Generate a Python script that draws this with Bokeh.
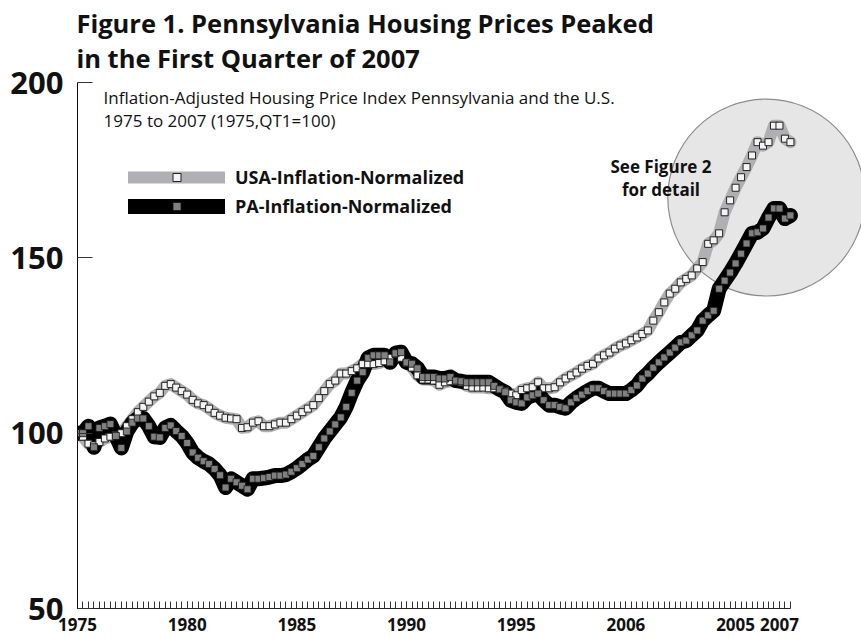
from bokeh.plotting import figure
from bokeh.models import Range1d, LinearAxis, FixedTicker, Label, Legend, LegendItem
from bokeh.embed import file_html
from bokeh.resources import INLINE
import numpy as np

# ---- data (quarterly, 1975 Q1 .. 2007 Q3) ----
usa = [100, 99, 97, 96.5, 97.5, 98.5, 99, 99.5, 100, 102,
       104, 106, 107.5, 109, 110.5, 111.5, 113.5, 114, 113, 112,
       111, 109.5, 108.5, 108, 107, 105.8, 105, 104.4, 104.2, 104,
       101.5, 101.7, 103, 103.4, 102, 102, 102.5, 103, 103, 104,
       105, 106, 107, 108, 110, 112, 114, 115, 117, 117,
       117.7, 118.5, 119.7, 119.7, 119.7, 120, 120.5, 121.5, 122.6, 121.5,
       120, 118.7, 116.5, 115.3, 115.3, 115, 113.8, 114.5, 114.8, 114.8,
       114.5, 113.5, 113, 113, 113, 112.8, 112.8, 112.5, 112, 111.3,
       110.8, 112.3, 112.8, 113.1, 114.5, 112.8, 112.8, 113.1, 114.5, 115.6,
       116.5, 117.3, 118.4, 119.2, 119.8, 121.3, 122.2, 123, 124.1, 125,
       125.6, 126.5, 127.3, 128.3, 129.3, 132.1, 134.5, 137.3, 139.8, 141.2,
       143, 144, 145, 147, 148.8, 154, 155, 157, 163, 166.4,
       170, 173, 175.9, 179.2, 183, 182, 183, 187.7, 187.7, 184,
       183]
pa = [100, 100, 102, 96, 101.5, 102, 102.6, 99.2, 95.8, 100.5,
      103, 104.2, 104.2, 102, 99, 98.8, 101.5, 102.2, 100.6, 99.2,
      97.2, 94.5, 93, 92, 91.2, 89.8, 88, 84.5, 87, 86,
      85, 84, 87, 87, 87.2, 87.5, 87.9, 87.9, 88.2, 89,
      90, 91.2, 92.5, 93.5, 96, 98.5, 100.5, 102.5, 104.5, 107.5,
      111.5, 115, 117.4, 121.5, 122.2, 122.2, 122.2, 120.2, 122.8, 123.1,
      120.2, 119.8, 118.5, 116, 116, 116, 115.6, 115.6, 116, 115,
      114.8, 114.5, 114.5, 114.5, 114.5, 114.5, 113.5, 112.5, 111.7, 109.4,
      108.8, 108.5, 110.2, 110.8, 111.3, 109.4, 108, 108, 107.5, 107.1,
      108.8, 110, 111, 112, 112.8, 112.8, 112, 111.3, 111.3, 111.3,
      111.3, 112.3, 113.6, 115.6, 117, 118.7, 120.2, 121.6, 123, 124.4,
      125.9, 126.4, 127.9, 129.3, 132.1, 133.6, 134.9, 141.2, 143.5, 145.8,
      148.4, 151.2, 154.1, 157, 157.3, 158.4, 161.5, 164.1, 164.1, 161.2,
      162.1]
quarters = 1975 + np.arange(len(usa)) / 4.0

year_ticks = [1975, 1980, 1985, 1990, 1995, 2000, 2005, 2007]
year_labels = {1975: "1975", 1980: "1980", 1985: "1985", 1990: "1990",
               1995: "1995", 2000: "2006", 2005: "2005", 2007: "2007"}
y_ticks = [50, 100, 150, 200]

FONT = "Open Sans"

# frame covers the whole top of the page; the axes stop at 200 / 2007 Q3
p = figure(width=861, height=638, output_backend="svg", toolbar_location=None,
           x_range=Range1d(1975, 2010.74), y_range=Range1d(50, 223.4),
           x_axis_type=None, y_axis_type=None, title=None,
           min_border_left=77, min_border_right=0, min_border_top=0, min_border_bottom=30)
p.outline_line_color = None
p.background_fill_color = "white"

xaxis = LinearAxis(ticker=FixedTicker(ticks=year_ticks, minor_ticks=list(quarters)),
                   bounds=(1975, float(quarters[-1])),
                   major_label_overrides=year_labels)
xaxis.major_tick_in = 7
xaxis.major_tick_out = 0
xaxis.minor_tick_in = 7
xaxis.minor_tick_out = 0
xaxis.axis_line_color = "#222222"
xaxis.major_tick_line_color = "#333333"
xaxis.minor_tick_line_color = "#333333"
xaxis.major_label_text_font = FONT
xaxis.major_label_text_font_style = "bold"
xaxis.major_label_text_font_size = "17px"
xaxis.major_label_text_color = "#111111"
xaxis.major_label_standoff = 9
p.add_layout(xaxis, "below")

yaxis = LinearAxis(ticker=FixedTicker(ticks=y_ticks, minor_ticks=[]), bounds=(50, 200))
yaxis.major_tick_in = 15
yaxis.major_tick_out = 0
yaxis.minor_tick_line_color = None
yaxis.axis_line_color = "#111111"
yaxis.major_tick_line_color = "#333333"
yaxis.major_label_text_font = FONT
yaxis.major_label_text_font_style = "bold"
yaxis.major_label_text_font_size = "31px"
yaxis.major_label_text_color = "#111111"
yaxis.major_label_standoff = 14
p.add_layout(yaxis, "left")

# highlight circle ("See Figure 2")
p.scatter(x=[2006.4], y=[167.2], size=197, marker="circle",
          fill_color="#e6e6e7", line_color="#8c8c8c", line_width=1.2)

usa_line = p.line(quarters, usa, line_width=12, line_color="#b0b0b2",
                  line_join="round", line_cap="round")
pa_line = p.line(quarters, pa, line_width=15, line_color="#000000",
                 line_join="round", line_cap="round")
usa_pts = p.scatter(quarters, usa, marker="square", size=7,
                    fill_color="#f4f4f4", line_color="#222222", line_width=1)
pa_pts = p.scatter(quarters, pa, marker="square", size=7,
                   fill_color="#808080", line_color="#111111", line_width=0.8)

legend = Legend(items=[LegendItem(label="USA-Inflation-Normalized", renderers=[usa_line, usa_pts]),
                       LegendItem(label="PA-Inflation-Normalized", renderers=[pa_line, pa_pts])],
                location=(51, 390), orientation="vertical")
legend.glyph_width = 97
legend.glyph_height = 20
legend.label_height = 20
legend.spacing = 5
legend.padding = 0
legend.margin = 0
legend.label_standoff = 10
legend.label_text_font = FONT
legend.label_text_font_style = "bold"
legend.label_text_font_size = "18px"
legend.label_text_color = "#111111"
legend.background_fill_alpha = 0
legend.border_line_alpha = 0
p.add_layout(legend)

def lab(x, y, t, size, bold=False, align="left", baseline="middle"):
    p.add_layout(Label(x=x, y=y, text=t, text_font=FONT, text_font_size=size,
                       text_font_style="bold" if bold else "normal",
                       text_color="#111111", text_align=align, text_baseline=baseline))

lab(1974.95, 217.1, "Figure 1. Pennsylvania Housing Prices Peaked", "25.5px", True, "left", "alphabetic")
lab(1974.95, 207.1, "in the First Quarter of 2007", "25.5px", True, "left", "alphabetic")
lab(1976.19, 195.6, "Inflation-Adjusted Housing Price Index Pennsylvania and the U.S.", "17px")
lab(1976.19, 189.2, "1975 to 2007 (1975,QT1=100)", "17px")
lab(2001.6, 176.0, "See Figure 2", "17px", True, "center")
lab(2001.6, 169.5, "for detail", "17px", True, "center")

open("out.html", "w").write(file_html(p, INLINE))
